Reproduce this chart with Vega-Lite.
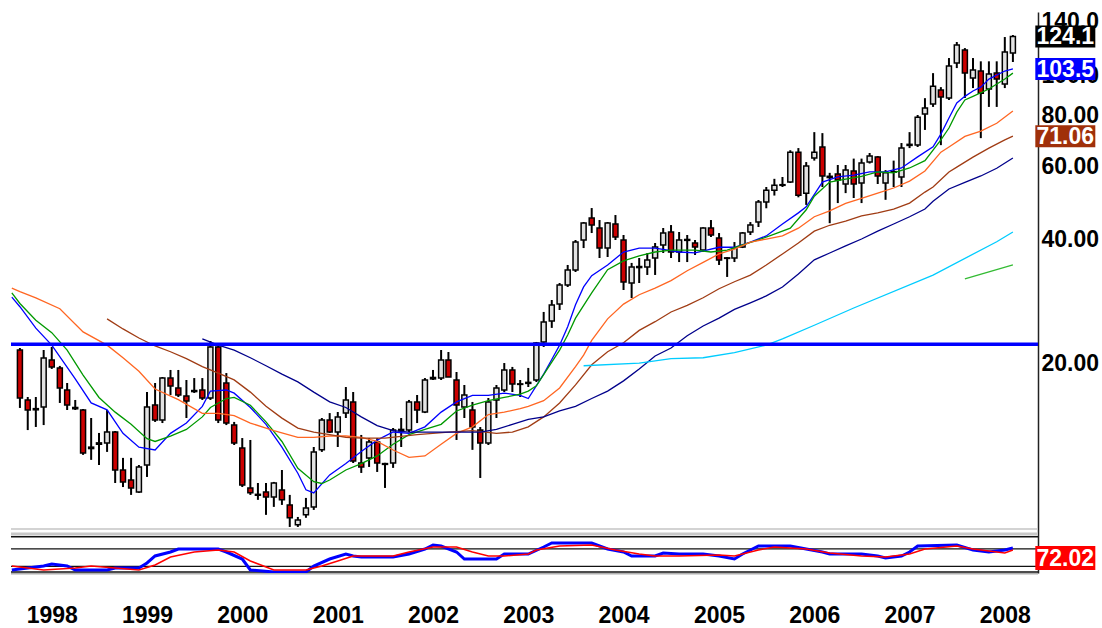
{
"$schema":"https://vega.github.io/schema/vega-lite/v6.json",
"width":1027,"height":561,
"autosize":{"type":"none"},
"padding":{"left":11,"top":12,"right":64,"bottom":55},
"background":"white",
"config":{"view":{"stroke":null},"font":"Liberation Sans","axis":{"grid":false}},
"datasets":{
"candles":[
{"d":"1997-09","o":21.5,"h":21.75,"l":15.56,"c":16.45},
{"d":"1997-10","o":16.27,"h":16.54,"l":13.75,"c":15.38},
{"d":"1997-11","o":15.5,"h":16.54,"l":13.99,"c":15.4},
{"d":"1997-12","o":15.64,"h":21.51,"l":14.14,"c":20.57},
{"d":"1998-01","o":20.35,"h":21.88,"l":19.35,"c":19.57},
{"d":"1998-02","o":19.46,"h":19.68,"l":16.0,"c":17.4},
{"d":"1998-03","o":17.2,"h":17.89,"l":15.38,"c":15.82},
{"d":"1998-04","o":15.6,"h":16.27,"l":15.38,"c":15.5},
{"d":"1998-05","o":15.38,"h":15.47,"l":11.97,"c":12.1},
{"d":"1998-06","o":12.5,"h":14.71,"l":11.64,"c":12.4},
{"d":"1998-07","o":12.7,"h":13.53,"l":11.31,"c":12.8},
{"d":"1998-08","o":12.79,"h":15.38,"l":12.17,"c":13.6},
{"d":"1998-09","o":13.6,"h":13.68,"l":10.23,"c":11.0},
{"d":"1998-10","o":11.0,"h":11.77,"l":10.0,"c":10.29},
{"d":"1998-11","o":10.4,"h":11.77,"l":9.57,"c":9.95},
{"d":"1998-12","o":9.73,"h":11.31,"l":9.68,"c":11.19},
{"d":"1999-01","o":11.31,"h":17.01,"l":10.58,"c":15.64},
{"d":"1999-02","o":15.82,"h":17.89,"l":14.39,"c":14.55},
{"d":"1999-03","o":14.55,"h":18.5,"l":14.3,"c":18.39},
{"d":"1999-04","o":18.39,"h":19.24,"l":16.73,"c":17.59},
{"d":"1999-05","o":17.4,"h":19.24,"l":16.54,"c":16.73},
{"d":"1999-06","o":16.64,"h":18.19,"l":14.71,"c":16.18},
{"d":"1999-07","o":17.15,"h":18.39,"l":16.92,"c":17.05},
{"d":"1999-08","o":17.2,"h":18.39,"l":16.27,"c":16.45},
{"d":"1999-09","o":16.45,"h":22.62,"l":16.27,"c":21.88},
{"d":"1999-10","o":21.88,"h":22.37,"l":14.3,"c":14.55},
{"d":"1999-11","o":17.89,"h":18.91,"l":14.14,"c":14.3},
{"d":"1999-12","o":14.14,"h":14.39,"l":12.65,"c":12.79},
{"d":"2000-01","o":12.44,"h":13.15,"l":10.0,"c":10.11},
{"d":"2000-02","o":9.95,"h":13.01,"l":9.57,"c":9.68},
{"d":"2000-03","o":9.6,"h":10.23,"l":9.31,"c":9.55},
{"d":"2000-04","o":9.73,"h":10.23,"l":8.56,"c":9.46},
{"d":"2000-05","o":9.46,"h":10.29,"l":8.95,"c":10.23},
{"d":"2000-06","o":9.84,"h":11.0,"l":9.05,"c":9.31},
{"d":"2000-07","o":9.05,"h":9.57,"l":8.0,"c":8.42},
{"d":"2000-08","o":8.1,"h":8.46,"l":8.0,"c":8.32},
{"d":"2000-09","o":8.56,"h":9.41,"l":8.42,"c":8.9},
{"d":"2000-10","o":8.95,"h":12.51,"l":8.8,"c":12.17},
{"d":"2000-11","o":12.31,"h":14.71,"l":12.17,"c":14.55},
{"d":"2000-12","o":14.55,"h":15.12,"l":13.53,"c":13.6},
{"d":"2001-01","o":13.6,"h":15.21,"l":12.51,"c":14.8},
{"d":"2001-02","o":15.12,"h":17.49,"l":14.71,"c":16.27},
{"d":"2001-03","o":16.09,"h":17.01,"l":11.44,"c":11.57},
{"d":"2001-04","o":11.44,"h":13.38,"l":10.82,"c":11.19},
{"d":"2001-05","o":11.77,"h":13.15,"l":11.19,"c":12.87},
{"d":"2001-06","o":12.87,"h":13.15,"l":10.88,"c":11.44},
{"d":"2001-07","o":11.4,"h":11.45,"l":9.95,"c":11.35},
{"d":"2001-08","o":11.44,"h":13.91,"l":11.13,"c":13.75},
{"d":"2001-09","o":13.7,"h":14.71,"l":12.51,"c":13.8},
{"d":"2001-10","o":13.75,"h":16.27,"l":13.6,"c":16.09},
{"d":"2001-11","o":16.09,"h":16.73,"l":14.3,"c":15.38},
{"d":"2001-12","o":15.21,"h":18.39,"l":15.12,"c":18.19},
{"d":"2002-01","o":18.3,"h":19.24,"l":18.19,"c":18.45},
{"d":"2002-02","o":18.39,"h":21.51,"l":18.19,"c":20.35},
{"d":"2002-03","o":20.35,"h":21.27,"l":18.5,"c":18.5},
{"d":"2002-04","o":18.19,"h":19.02,"l":13.01,"c":15.82},
{"d":"2002-05","o":15.64,"h":17.69,"l":14.71,"c":16.73},
{"d":"2002-06","o":15.38,"h":16.09,"l":12.31,"c":13.99},
{"d":"2002-07","o":13.75,"h":13.99,"l":10.52,"c":12.79},
{"d":"2002-08","o":12.79,"h":16.45,"l":12.65,"c":16.09},
{"d":"2002-09","o":16.27,"h":17.69,"l":14.71,"c":17.4},
{"d":"2002-10","o":17.2,"h":20.0,"l":17.01,"c":19.24},
{"d":"2002-11","o":19.24,"h":19.57,"l":17.01,"c":17.79},
{"d":"2002-12","o":17.8,"h":18.19,"l":16.54,"c":17.75},
{"d":"2003-01","o":17.85,"h":19.46,"l":17.49,"c":17.95},
{"d":"2003-02","o":18.19,"h":22.5,"l":17.99,"c":22.37},
{"d":"2003-03","o":22.5,"h":26.61,"l":21.88,"c":25.16},
{"d":"2003-04","o":25.3,"h":28.45,"l":24.34,"c":27.67},
{"d":"2003-05","o":27.82,"h":31.28,"l":26.9,"c":30.94},
{"d":"2003-06","o":30.94,"h":34.6,"l":30.59,"c":33.64},
{"d":"2003-07","o":33.64,"h":39.78,"l":33.27,"c":39.33},
{"d":"2003-08","o":39.78,"h":43.98,"l":38.03,"c":43.74},
{"d":"2003-09","o":44.98,"h":47.56,"l":41.36,"c":43.25},
{"d":"2003-10","o":42.54,"h":44.48,"l":35.97,"c":38.03},
{"d":"2003-11","o":38.03,"h":43.98,"l":36.17,"c":43.74},
{"d":"2003-12","o":43.5,"h":45.74,"l":39.78,"c":40.45},
{"d":"2004-01","o":39.78,"h":40.91,"l":30.08,"c":31.46},
{"d":"2004-02","o":31.28,"h":35.0,"l":28.77,"c":34.21},
{"d":"2004-03","o":34.1,"h":35.97,"l":31.28,"c":34.3},
{"d":"2004-04","o":34.21,"h":36.99,"l":32.72,"c":35.57},
{"d":"2004-05","o":35.97,"h":39.12,"l":32.72,"c":38.24},
{"d":"2004-06","o":38.68,"h":42.54,"l":36.99,"c":41.36},
{"d":"2004-07","o":41.6,"h":43.25,"l":35.97,"c":37.2},
{"d":"2004-08","o":37.2,"h":41.6,"l":35.17,"c":39.78},
{"d":"2004-09","o":39.7,"h":40.91,"l":35.17,"c":39.9},
{"d":"2004-10","o":39.12,"h":39.78,"l":36.58,"c":38.24},
{"d":"2004-11","o":37.62,"h":42.7,"l":37.2,"c":42.54},
{"d":"2004-12","o":42.54,"h":44.48,"l":40.45,"c":40.91},
{"d":"2005-01","o":40.23,"h":41.36,"l":34.6,"c":35.57},
{"d":"2005-02","o":36.0,"h":36.17,"l":32.36,"c":35.9},
{"d":"2005-03","o":35.97,"h":39.33,"l":35.17,"c":38.03},
{"d":"2005-04","o":38.24,"h":41.6,"l":38.03,"c":41.36},
{"d":"2005-05","o":41.6,"h":43.98,"l":40.91,"c":43.25},
{"d":"2005-06","o":43.98,"h":49.75,"l":42.78,"c":49.19},
{"d":"2005-07","o":49.2,"h":53.5,"l":47.5,"c":52.5},
{"d":"2005-08","o":52.5,"h":56.0,"l":51.0,"c":54.0},
{"d":"2005-09","o":54.2,"h":56.57,"l":53.5,"c":54.0},
{"d":"2005-10","o":55.0,"h":65.7,"l":54.7,"c":65.0},
{"d":"2005-11","o":65.0,"h":66.5,"l":50.5,"c":51.1},
{"d":"2005-12","o":51.67,"h":61.5,"l":48.4,"c":60.16},
{"d":"2006-01","o":62.9,"h":72.7,"l":62.0,"c":65.0},
{"d":"2006-02","o":66.9,"h":72.3,"l":53.5,"c":56.9},
{"d":"2006-03","o":56.8,"h":57.9,"l":43.7,"c":56.4},
{"d":"2006-04","o":57.5,"h":60.5,"l":48.9,"c":55.6},
{"d":"2006-05","o":54.4,"h":60.5,"l":51.7,"c":58.8},
{"d":"2006-06","o":58.5,"h":62.7,"l":50.3,"c":54.4},
{"d":"2006-07","o":54.7,"h":62.7,"l":48.9,"c":61.2},
{"d":"2006-08","o":61.5,"h":64.7,"l":61.0,"c":63.6},
{"d":"2006-09","o":63.3,"h":63.6,"l":54.4,"c":56.9},
{"d":"2006-10","o":54.7,"h":58.8,"l":49.8,"c":57.9},
{"d":"2006-11","o":58.1,"h":62.0,"l":53.5,"c":58.3},
{"d":"2006-12","o":56.6,"h":68.4,"l":53.5,"c":66.5},
{"d":"2007-01","o":67.5,"h":72.7,"l":66.5,"c":67.9},
{"d":"2007-02","o":67.7,"h":80.0,"l":66.9,"c":79.0},
{"d":"2007-03","o":80.4,"h":87.9,"l":73.6,"c":83.2},
{"d":"2007-04","o":85.1,"h":101.1,"l":83.7,"c":94.0},
{"d":"2007-05","o":92.0,"h":93.5,"l":67.6,"c":88.5},
{"d":"2007-06","o":88.0,"h":110.0,"l":87.0,"c":105.2},
{"d":"2007-07","o":107.0,"h":120.3,"l":104.0,"c":118.3},
{"d":"2007-08","o":115.0,"h":116.3,"l":88.0,"c":101.2},
{"d":"2007-09","o":98.4,"h":110.0,"l":93.0,"c":102.9},
{"d":"2007-10","o":102.3,"h":108.0,"l":70.3,"c":90.4},
{"d":"2007-11","o":92.5,"h":108.0,"l":83.7,"c":100.6},
{"d":"2007-12","o":101.2,"h":108.0,"l":83.7,"c":97.8},
{"d":"2008-01","o":95.1,"h":123.7,"l":93.0,"c":113.7},
{"d":"2008-02","o":113.1,"h":125.1,"l":107.6,"c":124.1}
],
"ma":[
{"d":"1997-08","s":"b","v":28.9},{"d":"1997-09","s":"b","v":27.4},{"d":"1997-11","s":"b","v":24.3},{"d":"1998-01","s":"b","v":22.1},{"d":"1998-04","s":"b","v":18.3},{"d":"1998-06","s":"b","v":16.0},{"d":"1998-08","s":"b","v":15.4},{"d":"1998-10","s":"b","v":13.5},{"d":"1998-12","s":"b","v":12.5},{"d":"1999-02","s":"b","v":12.3},{"d":"1999-04","s":"b","v":13.5},{"d":"1999-06","s":"b","v":14.3},{"d":"1999-08","s":"b","v":15.7},{"d":"1999-09","s":"b","v":17.1},{"d":"1999-11","s":"b","v":17.2},{"d":"1999-12","s":"b","v":16.9},{"d":"2000-02","s":"b","v":15.6},{"d":"2000-04","s":"b","v":14.2},{"d":"2000-06","s":"b","v":12.5},{"d":"2000-08","s":"b","v":10.8},{"d":"2000-09","s":"b","v":9.85},{"d":"2000-10","s":"b","v":9.68},{"d":"2000-12","s":"b","v":10.7},{"d":"2001-02","s":"b","v":11.4},{"d":"2001-04","s":"b","v":12.2},{"d":"2001-06","s":"b","v":13.0},{"d":"2001-08","s":"b","v":13.6},{"d":"2001-10","s":"b","v":13.5},{"d":"2001-12","s":"b","v":14.0},{"d":"2002-02","s":"b","v":15.2},{"d":"2002-04","s":"b","v":16.1},{"d":"2002-06","s":"b","v":16.7},{"d":"2002-08","s":"b","v":16.7},{"d":"2002-10","s":"b","v":16.9},{"d":"2002-12","s":"b","v":16.7},{"d":"2003-01","s":"b","v":16.4},{"d":"2003-03","s":"b","v":18.8},{"d":"2003-04","s":"b","v":20.4},{"d":"2003-05","s":"b","v":22.1},{"d":"2003-06","s":"b","v":24.5},{"d":"2003-07","s":"b","v":27.7},{"d":"2003-08","s":"b","v":30.6},{"d":"2003-09","s":"b","v":32.6},{"d":"2003-11","s":"b","v":34.6},{"d":"2004-01","s":"b","v":37.2},{"d":"2004-03","s":"b","v":38.0},{"d":"2004-05","s":"b","v":38.0},{"d":"2004-08","s":"b","v":37.2},{"d":"2004-10","s":"b","v":37.0},{"d":"2005-01","s":"b","v":38.2},{"d":"2005-03","s":"b","v":38.2},{"d":"2005-05","s":"b","v":39.3},{"d":"2005-07","s":"b","v":40.7},{"d":"2005-09","s":"b","v":43.5},{"d":"2005-11","s":"b","v":46.3},{"d":"2005-12","s":"b","v":47.9},{"d":"2006-02","s":"b","v":55.0},{"d":"2006-04","s":"b","v":56.6},{"d":"2006-06","s":"b","v":57.2},{"d":"2006-08","s":"b","v":58.2},{"d":"2006-10","s":"b","v":58.2},{"d":"2006-12","s":"b","v":59.5},{"d":"2007-02","s":"b","v":63.3},{"d":"2007-04","s":"b","v":67.0},{"d":"2007-05","s":"b","v":71.9},{"d":"2007-06","s":"b","v":78.7},{"d":"2007-07","s":"b","v":85.6},{"d":"2007-08","s":"b","v":88.8},{"d":"2007-09","s":"b","v":91.5},{"d":"2007-10","s":"b","v":93.5},{"d":"2007-11","s":"b","v":97.8},{"d":"2008-01","s":"b","v":102.3},{"d":"2008-02","s":"b","v":103.5},
{"d":"1997-08","s":"g","v":29.6},{"d":"1997-09","s":"g","v":27.9},{"d":"1997-11","s":"g","v":25.4},{"d":"1998-01","s":"g","v":23.7},{"d":"1998-03","s":"g","v":21.5},{"d":"1998-05","s":"g","v":18.7},{"d":"1998-07","s":"g","v":16.5},{"d":"1998-09","s":"g","v":15.2},{"d":"1998-11","s":"g","v":14.2},{"d":"1999-01","s":"g","v":13.1},{"d":"1999-02","s":"g","v":12.9},{"d":"1999-04","s":"g","v":13.3},{"d":"1999-06","s":"g","v":13.8},{"d":"1999-08","s":"g","v":14.8},{"d":"1999-09","s":"g","v":15.6},{"d":"1999-11","s":"g","v":16.4},{"d":"1999-12","s":"g","v":16.5},{"d":"2000-02","s":"g","v":15.8},{"d":"2000-04","s":"g","v":14.4},{"d":"2000-06","s":"g","v":12.9},{"d":"2000-08","s":"g","v":11.1},{"d":"2000-10","s":"g","v":10.3},{"d":"2000-11","s":"g","v":10.2},{"d":"2000-12","s":"g","v":10.4},{"d":"2001-02","s":"g","v":11.0},{"d":"2001-04","s":"g","v":11.4},{"d":"2001-06","s":"g","v":11.9},{"d":"2001-08","s":"g","v":12.7},{"d":"2001-10","s":"g","v":13.4},{"d":"2001-12","s":"g","v":13.8},{"d":"2002-02","s":"g","v":14.2},{"d":"2002-04","s":"g","v":15.3},{"d":"2002-06","s":"g","v":15.8},{"d":"2002-08","s":"g","v":16.2},{"d":"2002-10","s":"g","v":16.5},{"d":"2002-12","s":"g","v":16.8},{"d":"2003-01","s":"g","v":17.1},{"d":"2003-02","s":"g","v":17.6},{"d":"2003-04","s":"g","v":20.1},{"d":"2003-05","s":"g","v":21.5},{"d":"2003-06","s":"g","v":23.4},{"d":"2003-07","s":"g","v":25.7},{"d":"2003-09","s":"g","v":29.6},{"d":"2003-11","s":"g","v":33.7},{"d":"2004-01","s":"g","v":35.4},{"d":"2004-03","s":"g","v":36.4},{"d":"2004-05","s":"g","v":37.2},{"d":"2004-07","s":"g","v":37.6},{"d":"2004-10","s":"g","v":37.6},{"d":"2004-12","s":"g","v":37.2},{"d":"2005-02","s":"g","v":37.6},{"d":"2005-04","s":"g","v":38.7},{"d":"2005-06","s":"g","v":39.8},{"d":"2005-08","s":"g","v":41.1},{"d":"2005-10","s":"g","v":42.5},{"d":"2005-12","s":"g","v":47.1},{"d":"2006-01","s":"g","v":50.8},{"d":"2006-03","s":"g","v":55.0},{"d":"2006-05","s":"g","v":55.9},{"d":"2006-07","s":"g","v":56.8},{"d":"2006-09","s":"g","v":58.2},{"d":"2006-11","s":"g","v":57.9},{"d":"2007-01","s":"g","v":59.5},{"d":"2007-03","s":"g","v":62.0},{"d":"2007-05","s":"g","v":69.6},{"d":"2007-06","s":"g","v":74.4},{"d":"2007-07","s":"g","v":81.3},{"d":"2007-08","s":"g","v":87.0},{"d":"2007-09","s":"g","v":88.8},{"d":"2007-11","s":"g","v":92.5},{"d":"2008-01","s":"g","v":97.8},{"d":"2008-02","s":"g","v":101.1},
{"d":"1997-08","s":"o","v":30.4},{"d":"1997-09","s":"o","v":29.8},{"d":"1997-11","s":"o","v":28.8},{"d":"1998-02","s":"o","v":27.1},{"d":"1998-05","s":"o","v":23.8},{"d":"1998-08","s":"o","v":22.1},{"d":"1998-10","s":"o","v":20.6},{"d":"1998-12","s":"o","v":19.1},{"d":"1999-02","s":"o","v":17.3},{"d":"1999-05","s":"o","v":16.3},{"d":"1999-08","s":"o","v":15.1},{"d":"1999-10","s":"o","v":15.1},{"d":"1999-12","s":"o","v":14.9},{"d":"2000-02","s":"o","v":14.3},{"d":"2000-05","s":"o","v":13.7},{"d":"2000-08","s":"o","v":13.2},{"d":"2000-10","s":"o","v":13.2},{"d":"2000-12","s":"o","v":13.3},{"d":"2001-02","s":"o","v":13.3},{"d":"2001-04","s":"o","v":13.2},{"d":"2001-06","s":"o","v":12.9},{"d":"2001-08","s":"o","v":12.3},{"d":"2001-10","s":"o","v":11.8},{"d":"2001-12","s":"o","v":11.9},{"d":"2002-02","s":"o","v":12.7},{"d":"2002-04","s":"o","v":13.5},{"d":"2002-06","s":"o","v":14.0},{"d":"2002-08","s":"o","v":15.0},{"d":"2002-10","s":"o","v":15.2},{"d":"2002-12","s":"o","v":15.5},{"d":"2003-01","s":"o","v":15.7},{"d":"2003-03","s":"o","v":16.2},{"d":"2003-05","s":"o","v":17.4},{"d":"2003-07","s":"o","v":19.6},{"d":"2003-08","s":"o","v":20.9},{"d":"2003-09","s":"o","v":22.7},{"d":"2003-11","s":"o","v":25.6},{"d":"2004-01","s":"o","v":27.8},{"d":"2004-03","s":"o","v":29.3},{"d":"2004-05","s":"o","v":30.4},{"d":"2004-07","s":"o","v":31.7},{"d":"2004-09","s":"o","v":33.5},{"d":"2004-11","s":"o","v":35.1},{"d":"2005-01","s":"o","v":36.8},{"d":"2005-03","s":"o","v":37.8},{"d":"2005-05","s":"o","v":39.3},{"d":"2005-07","s":"o","v":40.0},{"d":"2005-09","s":"o","v":40.7},{"d":"2005-11","s":"o","v":42.5},{"d":"2006-01","s":"o","v":45.3},{"d":"2006-03","s":"o","v":46.8},{"d":"2006-05","s":"o","v":48.8},{"d":"2006-07","s":"o","v":50.2},{"d":"2006-09","s":"o","v":51.7},{"d":"2006-11","s":"o","v":53.2},{"d":"2007-01","s":"o","v":55.3},{"d":"2007-03","s":"o","v":58.5},{"d":"2007-05","s":"o","v":65.0},{"d":"2007-06","s":"o","v":66.9},{"d":"2007-08","s":"o","v":71.0},{"d":"2007-10","s":"o","v":73.1},{"d":"2007-12","s":"o","v":76.4},{"d":"2008-02","s":"o","v":81.8},
{"d":"1998-08","s":"br","v":25.6},{"d":"1998-10","s":"br","v":24.2},{"d":"1998-12","s":"br","v":23.0},{"d":"1999-02","s":"br","v":22.0},{"d":"1999-04","s":"br","v":21.3},{"d":"1999-06","s":"br","v":20.5},{"d":"1999-08","s":"br","v":19.6},{"d":"1999-10","s":"br","v":18.9},{"d":"1999-12","s":"br","v":18.2},{"d":"2000-02","s":"br","v":17.0},{"d":"2000-04","s":"br","v":15.7},{"d":"2000-06","s":"br","v":14.7},{"d":"2000-08","s":"br","v":13.9},{"d":"2000-10","s":"br","v":13.6},{"d":"2000-12","s":"br","v":13.4},{"d":"2001-02","s":"br","v":13.2},{"d":"2001-04","s":"br","v":13.15},{"d":"2001-07","s":"br","v":13.15},{"d":"2001-11","s":"br","v":13.4},{"d":"2002-03","s":"br","v":13.6},{"d":"2002-06","s":"br","v":13.7},{"d":"2002-09","s":"br","v":13.5},{"d":"2002-11","s":"br","v":13.6},{"d":"2003-01","s":"br","v":14.0},{"d":"2003-03","s":"br","v":14.8},{"d":"2003-05","s":"br","v":16.0},{"d":"2003-07","s":"br","v":17.7},{"d":"2003-09","s":"br","v":19.8},{"d":"2003-11","s":"br","v":21.3},{"d":"2004-01","s":"br","v":22.4},{"d":"2004-03","s":"br","v":24.0},{"d":"2004-05","s":"br","v":25.2},{"d":"2004-07","s":"br","v":26.6},{"d":"2004-09","s":"br","v":27.6},{"d":"2004-11","s":"br","v":28.8},{"d":"2005-01","s":"br","v":30.3},{"d":"2005-03","s":"br","v":31.5},{"d":"2005-05","s":"br","v":32.7},{"d":"2005-07","s":"br","v":34.6},{"d":"2005-09","s":"br","v":36.8},{"d":"2005-11","s":"br","v":39.1},{"d":"2006-01","s":"br","v":41.8},{"d":"2006-03","s":"br","v":43.2},{"d":"2006-05","s":"br","v":44.2},{"d":"2006-07","s":"br","v":45.5},{"d":"2006-09","s":"br","v":46.3},{"d":"2006-11","s":"br","v":47.3},{"d":"2007-01","s":"br","v":48.9},{"d":"2007-03","s":"br","v":52.0},{"d":"2007-04","s":"br","v":53.5},{"d":"2007-06","s":"br","v":58.2},{"d":"2007-07","s":"br","v":59.8},{"d":"2007-09","s":"br","v":63.2},{"d":"2007-11","s":"br","v":66.5},{"d":"2008-01","s":"br","v":69.6},{"d":"2008-02","s":"br","v":71.06},
{"d":"1999-08","s":"n","v":22.9},{"d":"1999-10","s":"n","v":22.1},{"d":"1999-12","s":"n","v":21.5},{"d":"2000-02","s":"n","v":20.6},{"d":"2000-04","s":"n","v":19.7},{"d":"2000-06","s":"n","v":18.8},{"d":"2000-08","s":"n","v":18.0},{"d":"2000-10","s":"n","v":17.0},{"d":"2000-12","s":"n","v":16.1},{"d":"2001-02","s":"n","v":15.6},{"d":"2001-04","s":"n","v":14.8},{"d":"2001-06","s":"n","v":14.1},{"d":"2001-08","s":"n","v":13.7},{"d":"2001-10","s":"n","v":13.6},{"d":"2002-02","s":"n","v":13.6},{"d":"2002-07","s":"n","v":13.6},{"d":"2002-09","s":"n","v":13.8},{"d":"2002-11","s":"n","v":14.2},{"d":"2003-01","s":"n","v":14.6},{"d":"2003-03","s":"n","v":14.8},{"d":"2003-05","s":"n","v":15.3},{"d":"2003-07","s":"n","v":15.7},{"d":"2003-09","s":"n","v":16.4},{"d":"2003-11","s":"n","v":17.1},{"d":"2004-01","s":"n","v":18.1},{"d":"2004-03","s":"n","v":19.35},{"d":"2004-05","s":"n","v":20.8},{"d":"2004-07","s":"n","v":21.75},{"d":"2004-09","s":"n","v":23.3},{"d":"2004-11","s":"n","v":24.6},{"d":"2005-01","s":"n","v":25.7},{"d":"2005-03","s":"n","v":27.0},{"d":"2005-05","s":"n","v":28.0},{"d":"2005-07","s":"n","v":29.1},{"d":"2005-09","s":"n","v":30.6},{"d":"2005-11","s":"n","v":32.9},{"d":"2006-01","s":"n","v":35.6},{"d":"2006-03","s":"n","v":37.0},{"d":"2006-05","s":"n","v":38.5},{"d":"2006-07","s":"n","v":40.0},{"d":"2006-09","s":"n","v":41.8},{"d":"2006-11","s":"n","v":43.5},{"d":"2007-01","s":"n","v":45.3},{"d":"2007-03","s":"n","v":47.3},{"d":"2007-04","s":"n","v":49.4},{"d":"2007-06","s":"n","v":52.9},{"d":"2007-08","s":"n","v":54.9},{"d":"2007-10","s":"n","v":56.9},{"d":"2007-12","s":"n","v":59.4},{"d":"2008-02","s":"n","v":62.9},
{"d":"2003-08","s":"c","v":19.7},{"d":"2004-03","s":"c","v":20.0},{"d":"2004-07","s":"c","v":20.5},{"d":"2004-11","s":"c","v":20.6},{"d":"2005-03","s":"c","v":21.2},{"d":"2005-07","s":"c","v":22.1},{"d":"2005-09","s":"c","v":22.9},{"d":"2006-01","s":"c","v":24.7},{"d":"2006-06","s":"c","v":27.2},{"d":"2007-04","s":"c","v":32.7},{"d":"2007-12","s":"c","v":39.4},{"d":"2008-02","s":"c","v":41.6},
{"d":"2007-08","s":"lg","v":32.0},{"d":"2008-02","s":"lg","v":34.6}
],
"osc":[
{"d":"1997-08","s":"ob","v":21.6},{"d":"1997-12","s":"ob","v":30.7},{"d":"1998-01","s":"ob","v":35.3},{"d":"1998-03","s":"ob","v":30.7},{"d":"1998-04","s":"ob","v":21.6},{"d":"1998-08","s":"ob","v":21.6},{"d":"1998-09","s":"ob","v":26.1},{"d":"1998-12","s":"ob","v":26.1},{"d":"1999-01","s":"ob","v":37.6},{"d":"1999-02","s":"ob","v":53.6},{"d":"1999-04","s":"ob","v":62.7},{"d":"1999-05","s":"ob","v":69.6},{"d":"1999-10","s":"ob","v":69.6},{"d":"1999-11","s":"ob","v":62.7},{"d":"2000-01","s":"ob","v":46.7},{"d":"2000-02","s":"ob","v":21.6},{"d":"2000-05","s":"ob","v":17.0},{"d":"2000-09","s":"ob","v":17.0},{"d":"2000-10","s":"ob","v":30.7},{"d":"2000-12","s":"ob","v":46.7},{"d":"2001-02","s":"ob","v":58.1},{"d":"2001-03","s":"ob","v":53.6},{"d":"2001-04","s":"ob","v":51.3},{"d":"2001-08","s":"ob","v":51.3},{"d":"2001-10","s":"ob","v":58.1},{"d":"2001-12","s":"ob","v":69.6},{"d":"2002-01","s":"ob","v":78.7},{"d":"2002-02","s":"ob","v":76.4},{"d":"2002-04","s":"ob","v":62.7},{"d":"2002-05","s":"ob","v":46.7},{"d":"2002-09","s":"ob","v":46.7},{"d":"2002-10","s":"ob","v":58.1},{"d":"2003-01","s":"ob","v":58.1},{"d":"2003-03","s":"ob","v":74.1},{"d":"2003-04","s":"ob","v":83.3},{"d":"2003-09","s":"ob","v":83.3},{"d":"2003-11","s":"ob","v":69.6},{"d":"2004-01","s":"ob","v":62.7},{"d":"2004-02","s":"ob","v":53.6},{"d":"2004-05","s":"ob","v":53.6},{"d":"2004-06","s":"ob","v":60.4},{"d":"2004-08","s":"ob","v":58.1},{"d":"2004-11","s":"ob","v":58.1},{"d":"2005-01","s":"ob","v":53.6},{"d":"2005-03","s":"ob","v":46.7},{"d":"2005-04","s":"ob","v":58.1},{"d":"2005-06","s":"ob","v":76.4},{"d":"2005-10","s":"ob","v":76.4},{"d":"2005-12","s":"ob","v":69.6},{"d":"2006-02","s":"ob","v":62.7},{"d":"2006-03","s":"ob","v":58.1},{"d":"2006-07","s":"ob","v":58.1},{"d":"2006-09","s":"ob","v":53.6},{"d":"2006-10","s":"ob","v":49.0},{"d":"2006-12","s":"ob","v":53.6},{"d":"2007-01","s":"ob","v":62.7},{"d":"2007-02","s":"ob","v":76.4},{"d":"2007-07","s":"ob","v":78.7},{"d":"2007-09","s":"ob","v":67.3},{"d":"2007-11","s":"ob","v":62.7},{"d":"2008-01","s":"ob","v":67.3},{"d":"2008-02","s":"ob","v":72.02},
{"d":"1997-08","s":"or","v":30.7},{"d":"1997-10","s":"or","v":26.1},{"d":"1997-12","s":"or","v":21.6},{"d":"1998-04","s":"or","v":26.1},{"d":"1998-06","s":"or","v":30.7},{"d":"1998-12","s":"or","v":21.6},{"d":"1999-02","s":"or","v":33.0},{"d":"1999-04","s":"or","v":51.3},{"d":"1999-07","s":"or","v":62.7},{"d":"1999-10","s":"or","v":67.3},{"d":"1999-12","s":"or","v":62.7},{"d":"2000-02","s":"or","v":42.1},{"d":"2000-05","s":"or","v":21.6},{"d":"2000-09","s":"or","v":21.6},{"d":"2000-11","s":"or","v":30.7},{"d":"2001-01","s":"or","v":42.1},{"d":"2001-03","s":"or","v":53.6},{"d":"2001-08","s":"or","v":53.6},{"d":"2001-10","s":"or","v":62.7},{"d":"2002-01","s":"or","v":74.1},{"d":"2002-04","s":"or","v":74.1},{"d":"2002-06","s":"or","v":62.7},{"d":"2002-08","s":"or","v":53.6},{"d":"2002-10","s":"or","v":53.6},{"d":"2003-01","s":"or","v":58.1},{"d":"2003-02","s":"or","v":67.3},{"d":"2003-05","s":"or","v":76.4},{"d":"2003-09","s":"or","v":78.7},{"d":"2003-12","s":"or","v":67.3},{"d":"2004-03","s":"or","v":58.1},{"d":"2004-05","s":"or","v":53.6},{"d":"2004-08","s":"or","v":53.6},{"d":"2005-01","s":"or","v":55.9},{"d":"2005-03","s":"or","v":53.6},{"d":"2005-06","s":"or","v":67.3},{"d":"2005-08","s":"or","v":74.1},{"d":"2005-12","s":"or","v":69.6},{"d":"2006-03","s":"or","v":60.4},{"d":"2006-07","s":"or","v":53.6},{"d":"2006-10","s":"or","v":51.3},{"d":"2007-01","s":"or","v":58.1},{"d":"2007-03","s":"or","v":69.6},{"d":"2007-07","s":"or","v":76.4},{"d":"2007-09","s":"or","v":69.6},{"d":"2008-01","s":"or","v":60.4},{"d":"2008-02","s":"or","v":67.3}
],
"badges":[
{"d":"2008-02","v":124.1,"t":"124.1","k":"close"},
{"d":"2008-02","v":103.5,"t":"103.5","k":"ma1"},
{"d":"2008-02","v":71.06,"t":"71.06","k":"ma2"}
],
"obadge":[{"d":"2008-02","v":72.02,"t":"72.02"}]
},
"resolve":{"scale":{"y":"independent"},"axis":{"y":"independent"}},
"layer":[
{"layer":[
{"data":{"name":"candles"},"mark":{"type":"rule","color":"#000000","strokeWidth":2},
"encoding":{"x":{"field":"d","type":"temporal","scale":{"type":"utc","domain":[{"year":1997,"month":8,"date":17,"utc":true},{"year":2008,"month":4,"date":18,"utc":true}]}},
"y":{"field":"l","type":"quantitative","scale":{"type":"log","domain":[6.185,142.28],"nice":false},
"axis":{"orient":"right","values":[20,40,60,80,100,140],"labelExpr":"datum.value >= 100 ? format(datum.value, '.1f') : format(datum.value, '.2f')","labelOffset":{"condition":{"test":"datum.value == 140","value":7},"value":0},"title":null,"ticks":false,"labelPadding":3,"labelFont":"Liberation Sans","labelFontSize":23,"labelFontWeight":"bold","labelColor":"#000000","domainColor":"#222222","domainWidth":1.5,"grid":false,"labelOverlap":false,"labelFlush":false,"labelBound":false}},
"y2":{"field":"h"}}},
{"data":{"name":"candles"},"mark":{"type":"bar","width":5,"stroke":"#000000","strokeWidth":1.5},
"encoding":{"x":{"field":"d","type":"temporal","scale":{"type":"utc","domain":[{"year":1997,"month":8,"date":17,"utc":true},{"year":2008,"month":4,"date":18,"utc":true}]}},
"y":{"field":"o","type":"quantitative","scale":{"type":"log","domain":[6.185,142.28],"nice":false}},
"y2":{"field":"c"},
"color":{"condition":{"test":"datum.c >= datum.o","value":"#e2e2e2"},"value":"#cc0000"}}},
{"data":{"name":"ma"},"mark":{"type":"line","strokeWidth":1.3,"clip":true},
"encoding":{"x":{"field":"d","type":"temporal","scale":{"type":"utc","domain":[{"year":1997,"month":8,"date":17,"utc":true},{"year":2008,"month":4,"date":18,"utc":true}]}},
"y":{"field":"v","type":"quantitative","scale":{"type":"log","domain":[6.185,142.28],"nice":false}},
"color":{"field":"s","type":"nominal","scale":{"domain":["b","g","o","br","n","c","lg"],"range":["#0000ff","#009900","#ff6622","#a03c14","#00008b","#00ccff","#33bb33"]},"legend":null}}},
{"data":{"values":[{}]},"mark":{"type":"rule","color":"#0000ff","strokeWidth":3.5},
"encoding":{"y":{"datum":22.2,"type":"quantitative","scale":{"type":"log","domain":[6.185,142.28],"nice":false}}}},
{"data":{"values":[{}]},"mark":{"type":"rule","color":"#c4c4c4","strokeWidth":1.5},
"encoding":{"y":{"datum":7.91,"type":"quantitative","scale":{"type":"log","domain":[6.185,142.28],"nice":false}}}},
{"data":{"name":"badges"},"mark":{"type":"point","shape":"M0.747,-0.3667L2.747,-0.3667L2.747,0.3667L0.747,0.3667Z","filled":true,"size":3600,"opacity":1,"strokeWidth":0},
"encoding":{"x":{"field":"d","type":"temporal","scale":{"type":"utc","domain":[{"year":1997,"month":8,"date":17,"utc":true},{"year":2008,"month":4,"date":18,"utc":true}]}},
"y":{"field":"v","type":"quantitative","scale":{"type":"log","domain":[6.185,142.28],"nice":false}},
"fill":{"field":"k","type":"nominal","scale":{"domain":["close","ma1","ma2"],"range":["#000000","#0000ff","#a0300a"]},"legend":null}}},
{"data":{"name":"badges"},"mark":{"type":"text","color":"#ffffff","font":"Liberation Sans","fontSize":23,"fontWeight":"bold","align":"center","baseline":"middle","dx":52.4,"dy":1},
"encoding":{"x":{"field":"d","type":"temporal","scale":{"type":"utc","domain":[{"year":1997,"month":8,"date":17,"utc":true},{"year":2008,"month":4,"date":18,"utc":true}]}},
"y":{"field":"v","type":"quantitative","scale":{"type":"log","domain":[6.185,142.28],"nice":false}},
"text":{"field":"t"}}}
]},
{"layer":[
{"data":{"values":[{}]},"mark":{"type":"rule","color":"#c8c8c8","strokeWidth":3},
"encoding":{"y":{"datum":104,"type":"quantitative","scale":{"domain":[14.714,1297],"nice":false,"zero":false},"axis":null}}},
{"data":{"values":[{}]},"mark":{"type":"rule","color":"#111111","strokeWidth":1.5},
"encoding":{"y":{"datum":97.3,"type":"quantitative","scale":{"domain":[14.714,1297],"nice":false,"zero":false},"axis":null}}},
{"data":{"values":[{}]},"mark":{"type":"rule","color":"#111111","strokeWidth":1.3},
"encoding":{"y":{"datum":70,"type":"quantitative","scale":{"domain":[14.714,1297],"nice":false,"zero":false},"axis":null}}},
{"data":{"values":[{}]},"mark":{"type":"rule","color":"#111111","strokeWidth":1.3},
"encoding":{"y":{"datum":30,"type":"quantitative","scale":{"domain":[14.714,1297],"nice":false,"zero":false},"axis":null}}},
{"data":{"values":[{}]},"mark":{"type":"rule","color":"#111111","strokeWidth":1.5},
"encoding":{"y":{"datum":16.8,"type":"quantitative","scale":{"domain":[14.714,1297],"nice":false,"zero":false},"axis":null}}},
{"data":{"values":[{}]},"mark":{"type":"rule","color":"#b0b0b0","strokeWidth":1.5},
"encoding":{"y":{"datum":13.2,"type":"quantitative","scale":{"domain":[14.714,1297],"nice":false,"zero":false},"axis":null}}},
{"data":{"name":"osc"},"transform":[{"filter":"datum.s == 'ob'"}],"mark":{"type":"line","color":"#0000ff","strokeWidth":3,"clip":true},
"encoding":{"x":{"field":"d","type":"temporal","scale":{"type":"utc","domain":[{"year":1997,"month":8,"date":17,"utc":true},{"year":2008,"month":4,"date":18,"utc":true}]},
"axis":{"orient":"bottom","values":[{"year":1998,"month":1,"date":1,"utc":true},{"year":1999,"month":1,"date":1,"utc":true},{"year":2000,"month":1,"date":1,"utc":true},{"year":2001,"month":1,"date":1,"utc":true},{"year":2002,"month":1,"date":1,"utc":true},{"year":2003,"month":1,"date":1,"utc":true},{"year":2004,"month":1,"date":1,"utc":true},{"year":2005,"month":1,"date":1,"utc":true},{"year":2006,"month":1,"date":1,"utc":true},{"year":2007,"month":1,"date":1,"utc":true},{"year":2008,"month":1,"date":1,"utc":true}],
"labelExpr":"utcFormat(datum.value, '%Y')","title":null,"ticks":false,"domain":false,"labelPadding":31,"labelFont":"Liberation Sans","labelFontSize":23,"labelFontWeight":"bold","labelColor":"#000000","grid":false,"labelFlush":false,"labelOverlap":false,"labelAngle":0}},
"y":{"field":"v","type":"quantitative","scale":{"domain":[14.714,1297],"nice":false,"zero":false},"axis":null}}},
{"data":{"name":"osc"},"transform":[{"filter":"datum.s == 'or'"}],"mark":{"type":"line","color":"#ff0000","strokeWidth":1.5,"clip":true},
"encoding":{"x":{"field":"d","type":"temporal","scale":{"type":"utc","domain":[{"year":1997,"month":8,"date":17,"utc":true},{"year":2008,"month":4,"date":18,"utc":true}]}},
"y":{"field":"v","type":"quantitative","scale":{"domain":[14.714,1297],"nice":false,"zero":false},"axis":null}}},
{"data":{"name":"obadge"},"mark":{"type":"point","shape":"M0.747,-0.0667L2.747,-0.0667L2.747,0.7333L0.747,0.7333Z","filled":true,"size":3600,"opacity":1,"strokeWidth":0,"color":"#ff0000"},
"encoding":{"x":{"field":"d","type":"temporal","scale":{"type":"utc","domain":[{"year":1997,"month":8,"date":17,"utc":true},{"year":2008,"month":4,"date":18,"utc":true}]}},
"y":{"field":"v","type":"quantitative","scale":{"domain":[14.714,1297],"nice":false,"zero":false},"axis":null}}},
{"data":{"name":"obadge"},"mark":{"type":"text","color":"#ffffff","font":"Liberation Sans","fontSize":23,"fontWeight":"bold","align":"center","baseline":"middle","dx":52.4,"dy":11},
"encoding":{"x":{"field":"d","type":"temporal","scale":{"type":"utc","domain":[{"year":1997,"month":8,"date":17,"utc":true},{"year":2008,"month":4,"date":18,"utc":true}]}},
"y":{"field":"v","type":"quantitative","scale":{"domain":[14.714,1297],"nice":false,"zero":false},"axis":null},
"text":{"field":"t"}}}
]}
]
}
